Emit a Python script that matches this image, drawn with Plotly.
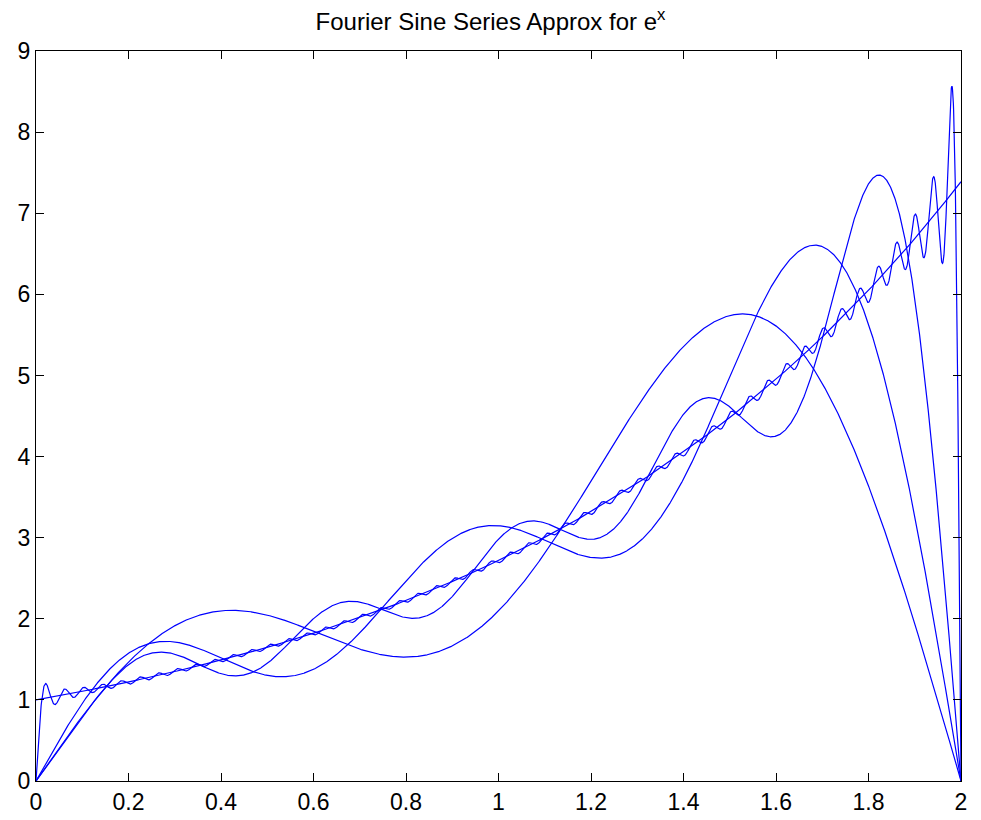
import numpy as np
import plotly.graph_objects as go

# Values
L_HALF_PERIOD = 2.0                 # interval [0, 2]
N_TERMS = [3, 5, 10, 100]           # numbers of sine terms in the plotted partial sums
X_TICKS = [0, 0.2, 0.4, 0.6, 0.8, 1, 1.2, 1.4, 1.6, 1.8, 2]
X_TICK_TEXT = ["0", "0.2", "0.4", "0.6", "0.8", "1", "1.2", "1.4", "1.6", "1.8", "2"]
Y_TICKS = [0, 1, 2, 3, 4, 5, 6, 7, 8, 9]
Y_TICK_TEXT = ["0", "1", "2", "3", "4", "5", "6", "7", "8", "9"]

x = np.linspace(0, L_HALF_PERIOD, 4001)


def sine_partial_sum(xv, n_terms, L):
    s = np.zeros_like(xv)
    for n in range(1, n_terms + 1):
        k = n * np.pi / L
        bn = (2.0 / L) * k * (1 - (-1) ** n * np.exp(L)) / (1 + k * k)
        s += bn * np.sin(k * xv)
    return s


fig = go.Figure()
line = dict(color="#0000FF", width=1.2)
fig.add_trace(go.Scatter(x=x, y=np.exp(x), mode="lines", line=line, hoverinfo="skip"))
for n in N_TERMS:
    fig.add_trace(go.Scatter(x=x, y=sine_partial_sum(x, n, L_HALF_PERIOD), mode="lines",
                             line=line, hoverinfo="skip"))

axis_common = dict(showline=True, linecolor="black", linewidth=1, mirror="ticks",
                   ticks="inside", ticklen=8, tickcolor="black", tickwidth=1,
                   showgrid=False, zeroline=False, automargin=False,
                   tickfont=dict(family="Liberation Sans, Arial, sans-serif", size=23, color="black"))

fig.update_layout(
    width=981, height=820,
    margin=dict(l=36, r=20, t=51, b=39),
    paper_bgcolor="white", plot_bgcolor="white",
    showlegend=False,
    title=dict(text="Fourier Sine Series Approx for e<sup>x</sup>",
               x=0.5, xanchor="center", y=0.974, yanchor="middle",
               font=dict(family="Liberation Sans, Arial, sans-serif", size=24, color="black")),
    xaxis=dict(range=[0, 2], tickvals=X_TICKS, ticktext=X_TICK_TEXT, **axis_common),
    yaxis=dict(range=[0, 9], tickvals=Y_TICKS, ticktext=Y_TICK_TEXT, **axis_common),
)

fig.write_html("out.html")
